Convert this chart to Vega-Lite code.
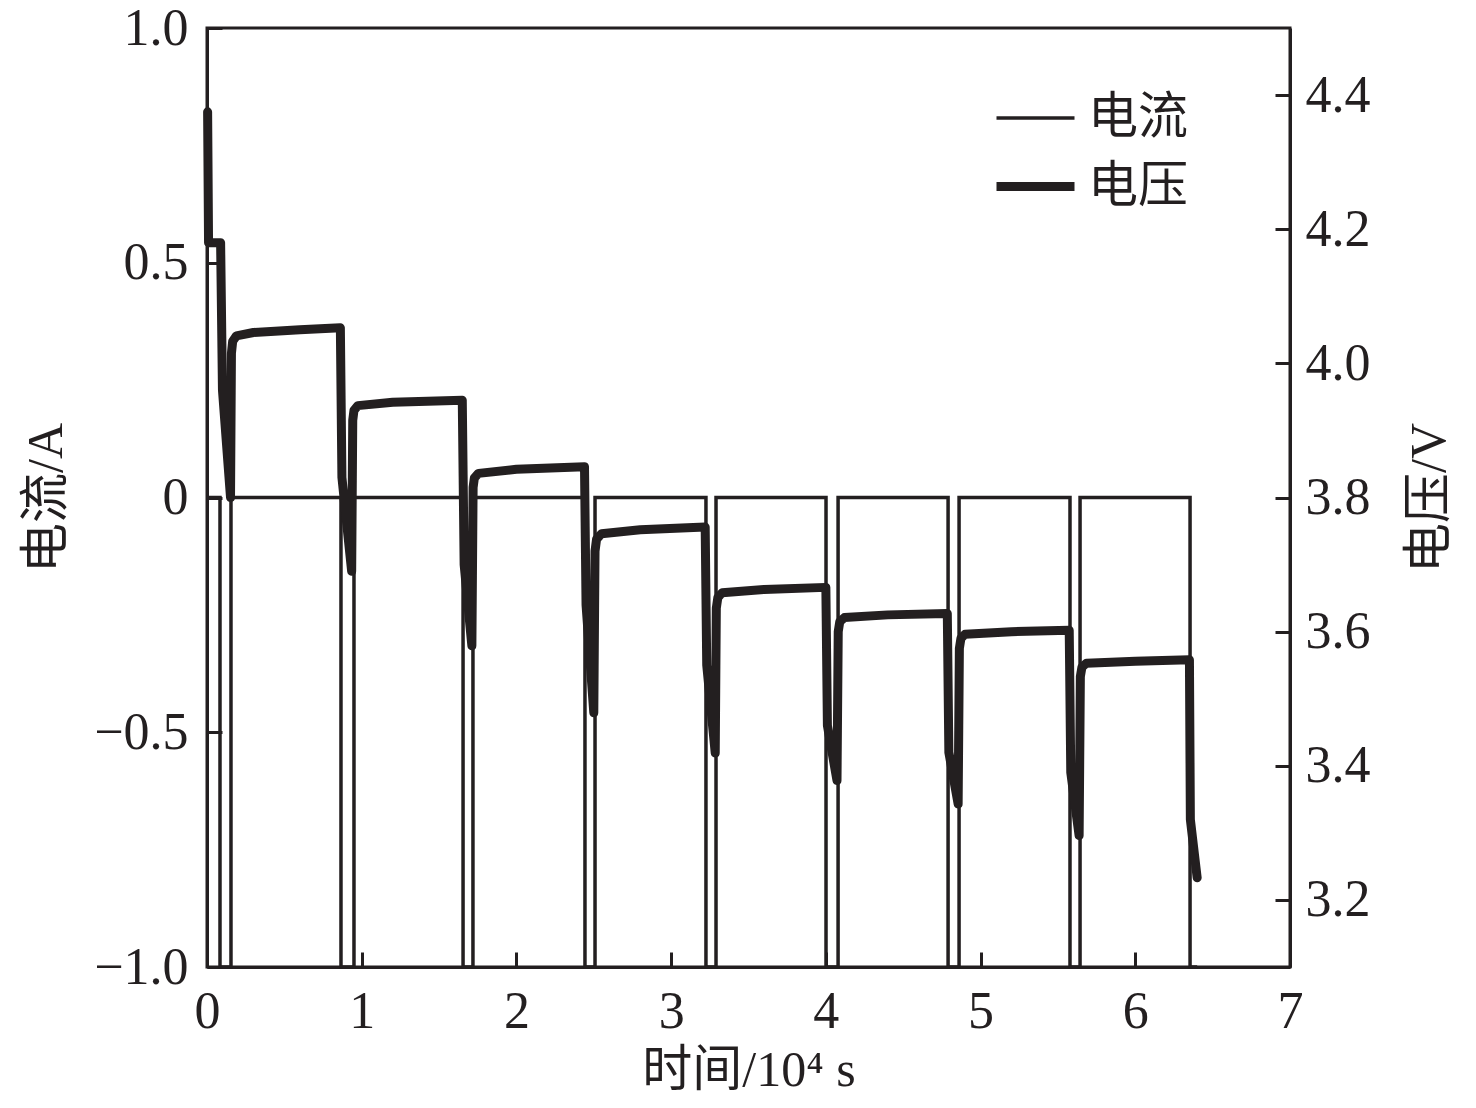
{
  "$schema": "https://vega.github.io/schema/vega-lite/v6.json",
  "width": 1083,
  "height": 939,
  "autosize": "none",
  "padding": {"left": 207, "top": 28, "right": 186, "bottom": 141},
  "background": "white",
  "datasets": {
    "current": [
      {"i": 0, "t": 0, "I": 0},
      {"i": 1, "t": 0.084, "I": 0},
      {"i": 2, "t": 0.084, "I": -1},
      {"i": 3, "t": 0.155, "I": -1},
      {"i": 4, "t": 0.155, "I": 0},
      {"i": 5, "t": 0.866, "I": 0},
      {"i": 6, "t": 0.866, "I": -1},
      {"i": 7, "t": 0.95, "I": -1},
      {"i": 8, "t": 0.95, "I": 0},
      {"i": 9, "t": 1.655, "I": 0},
      {"i": 10, "t": 1.655, "I": -1},
      {"i": 11, "t": 1.719, "I": -1},
      {"i": 12, "t": 1.719, "I": 0},
      {"i": 13, "t": 2.443, "I": 0},
      {"i": 14, "t": 2.443, "I": -1},
      {"i": 15, "t": 2.508, "I": -1},
      {"i": 16, "t": 2.508, "I": 0},
      {"i": 17, "t": 3.225, "I": 0},
      {"i": 18, "t": 3.225, "I": -1},
      {"i": 19, "t": 3.29, "I": -1},
      {"i": 20, "t": 3.29, "I": 0},
      {"i": 21, "t": 4.001, "I": 0},
      {"i": 22, "t": 4.001, "I": -1},
      {"i": 23, "t": 4.079, "I": -1},
      {"i": 24, "t": 4.079, "I": 0},
      {"i": 25, "t": 4.79, "I": 0},
      {"i": 26, "t": 4.79, "I": -1},
      {"i": 27, "t": 4.861, "I": -1},
      {"i": 28, "t": 4.861, "I": 0},
      {"i": 29, "t": 5.578, "I": 0},
      {"i": 30, "t": 5.578, "I": -1},
      {"i": 31, "t": 5.643, "I": -1},
      {"i": 32, "t": 5.643, "I": 0},
      {"i": 33, "t": 6.354, "I": 0},
      {"i": 34, "t": 6.354, "I": -1},
      {"i": 35, "t": 6.4, "I": -1}
    ],
    "voltage": [
      {"t": 0.004, "V": 4.375},
      {"t": 0.01, "V": 4.18},
      {"t": 0.088, "V": 4.18},
      {"t": 0.1, "V": 3.96},
      {"t": 0.152, "V": 3.8},
      {"t": 0.158, "V": 4.015},
      {"t": 0.166, "V": 4.033},
      {"t": 0.19, "V": 4.041},
      {"t": 0.3, "V": 4.046},
      {"t": 0.6, "V": 4.05},
      {"t": 0.862, "V": 4.053},
      {"t": 0.872, "V": 3.83},
      {"t": 0.935, "V": 3.69},
      {"t": 0.942, "V": 3.915},
      {"t": 0.95, "V": 3.93},
      {"t": 0.975, "V": 3.937},
      {"t": 1.2, "V": 3.942},
      {"t": 1.65, "V": 3.945},
      {"t": 1.662, "V": 3.7},
      {"t": 1.712, "V": 3.579},
      {"t": 1.72, "V": 3.815},
      {"t": 1.728, "V": 3.829},
      {"t": 1.755, "V": 3.836},
      {"t": 2.0, "V": 3.842},
      {"t": 2.44, "V": 3.846},
      {"t": 2.45, "V": 3.64},
      {"t": 2.5, "V": 3.479},
      {"t": 2.508, "V": 3.72},
      {"t": 2.518, "V": 3.738},
      {"t": 2.55, "V": 3.746},
      {"t": 2.8, "V": 3.752},
      {"t": 3.22, "V": 3.756},
      {"t": 3.23, "V": 3.55},
      {"t": 3.285, "V": 3.419},
      {"t": 3.292, "V": 3.635},
      {"t": 3.302, "V": 3.651},
      {"t": 3.33, "V": 3.658},
      {"t": 3.6, "V": 3.663},
      {"t": 4.0, "V": 3.666},
      {"t": 4.01, "V": 3.46},
      {"t": 4.072, "V": 3.378},
      {"t": 4.08, "V": 3.6},
      {"t": 4.09, "V": 3.615},
      {"t": 4.12, "V": 3.621},
      {"t": 4.4, "V": 3.625},
      {"t": 4.785, "V": 3.627},
      {"t": 4.795, "V": 3.42},
      {"t": 4.855, "V": 3.343},
      {"t": 4.863, "V": 3.575},
      {"t": 4.873, "V": 3.59},
      {"t": 4.9, "V": 3.596},
      {"t": 5.2, "V": 3.6},
      {"t": 5.573, "V": 3.602},
      {"t": 5.583, "V": 3.39},
      {"t": 5.637, "V": 3.296},
      {"t": 5.645, "V": 3.533},
      {"t": 5.655, "V": 3.547},
      {"t": 5.685, "V": 3.553},
      {"t": 6.0, "V": 3.556},
      {"t": 6.35, "V": 3.558},
      {"t": 6.356, "V": 3.32},
      {"t": 6.4, "V": 3.233}
    ]
  },
  "layer": [
    {
      "data": {"name": "current"},
      "mark": {"type": "line", "color": "#231f20", "strokeJoin": "miter", "strokeCap": "butt"},
      "encoding": {
        "x": {
          "field": "t",
          "type": "quantitative",
          "scale": {"domain": [0, 7], "nice": false},
          "axis": {"values": [0, 1, 2, 3, 4, 5, 6, 7], "format": "d", "labelPadding": 34, "titlePadding": 8},
          "title": "时间/10⁴ s"
        },
        "y": {
          "field": "I",
          "type": "quantitative",
          "scale": {"domain": [-1, 1], "nice": false},
          "axis": {
            "values": [-1, -0.5, 0, 0.5, 1],
            "labelExpr": "datum.value == 0 ? '0' : format(datum.value, '.1f')",
            "labelPadding": 34,
            "title": "电流/A",
            "titlePadding": 22
          }
        },
        "order": {"field": "i"},
        "strokeWidth": {
          "datum": "电流",
          "type": "nominal",
          "scale": {"domain": ["电流", "电压"], "range": [3.5, 9]},
          "legend": {
            "orient": "none",
            "legendX": 785,
            "legendY": 49,
            "title": null,
            "symbolType": "stroke",
            "symbolSize": 6084,
            "symbolStrokeColor": "#231f20",
            "labelFont": "Liberation Serif, Noto Sans CJK SC",
            "labelFontSize": 50,
            "labelColor": "#231f20",
            "labelOffset": 9,
            "rowPadding": -18
          }
        }
      }
    },
    {
      "data": {"name": "voltage"},
      "mark": {"type": "line", "color": "#231f20", "strokeJoin": "round", "strokeCap": "round"},
      "encoding": {
        "x": {"field": "t", "type": "quantitative"},
        "y": {
          "field": "V",
          "type": "quantitative",
          "scale": {"domain": [3.1, 4.5], "nice": false, "zero": false},
          "axis": {
            "orient": "right",
            "values": [3.2, 3.4, 3.6, 3.8, 4.0, 4.2, 4.4],
            "format": ".1f",
            "labelPadding": 30,
            "title": "电压/V",
            "titleAngle": -90,
            "titlePadding": 84
          }
        },
        "strokeWidth": {"datum": "电压", "type": "nominal"}
      }
    }
  ],
  "resolve": {"scale": {"y": "independent"}},
  "config": {
    "view": {"stroke": "#231f20", "strokeWidth": 3},
    "axis": {
      "grid": false,
      "domainColor": "#231f20",
      "domainWidth": 3,
      "tickColor": "#231f20",
      "tickWidth": 3,
      "tickSize": -15,
      "labelFlush": false,
      "labelFont": "Liberation Serif",
      "labelFontSize": 52,
      "labelColor": "#231f20",
      "titleFont": "Liberation Serif, Noto Sans CJK SC",
      "titleFontSize": 50,
      "titleFontWeight": "normal",
      "titleColor": "#231f20"
    }
  }
}
